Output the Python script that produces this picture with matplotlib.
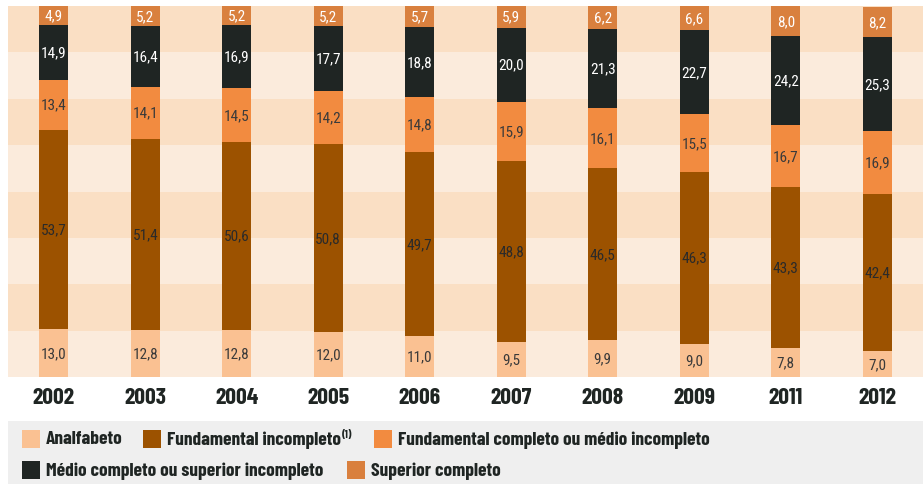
import matplotlib
matplotlib.use("Agg")
import matplotlib.pyplot as plt
from matplotlib.patches import Rectangle

# Data (percentages)
years = ["2002", "2003", "2004", "2005", "2006", "2007", "2008", "2009", "2011", "2012"]
analfabeto = [13.0, 12.8, 12.8, 12.0, 11.0, 9.5, 9.9, 9.0, 7.8, 7.0]
fund_incompleto = [53.7, 51.4, 50.6, 50.8, 49.7, 48.8, 46.5, 46.3, 43.3, 42.4]
fund_completo = [13.4, 14.1, 14.5, 14.2, 14.8, 15.9, 16.1, 15.5, 16.7, 16.9]
medio_completo = [14.9, 16.4, 16.9, 17.7, 18.8, 20.0, 21.3, 22.7, 24.2, 25.3]
superior = [4.9, 5.2, 5.2, 5.2, 5.7, 5.9, 6.2, 6.6, 8.0, 8.2]

series = [
    ("Analfabeto", analfabeto, "#FAC192", "#3a3a3a"),
    ("Fundamental incompleto", fund_incompleto, "#9C5200", "#2a2a2a"),
    ("Fundamental completo ou médio incompleto", fund_completo, "#F28B40", "#3a3a3a"),
    ("Médio completo ou superior incompleto", medio_completo, "#1F2523", "#ffffff"),
    ("Superior completo", superior, "#D9803E", "#ffffff"),
]

NARROW = ["Barlow Condensed", "Liberation Sans", "DejaVu Sans"]
VALFONT = ["Roboto Condensed", "Barlow Condensed", "Liberation Sans", "DejaVu Sans"]

W, H = 923, 485
fig = plt.figure(figsize=(W / 100, H / 100), dpi=100)
ax = fig.add_axes([8 / W, (H - 378) / H, 915 / W, 371 / H])

# background bands
for i in range(8):
    c = "#FBEBDC" if i % 2 == 0 else "#FADFC4"
    ax.axhspan(i * 12.5, (i + 1) * 12.5, color=c, lw=0, zorder=0)

x = range(len(years))
bottom = [0.0] * len(years)
for name, vals, color, tcolor in series:
    ax.bar(x, vals, bottom=bottom, width=0.32, color=color, lw=0, zorder=2)
    for i, v in enumerate(vals):
        ax.text(i, bottom[i] + v / 2, f"{v:.1f}".replace(".", ","),
                ha="center", va="center", color=tcolor, fontsize=11,
                family=VALFONT, zorder=3)
    bottom = [b + v for b, v in zip(bottom, vals)]

ax.set_xlim(-0.5, len(years) - 0.5)
ax.set_ylim(0, 100)
ax.set_xticks(list(x))
ax.set_xticklabels(years, fontsize=17, fontweight="bold", family=NARROW, color="#1F2523")
ax.tick_params(axis="x", length=0, pad=7)
ax.set_yticks([])
for s in ax.spines.values():
    s.set_visible(False)

# legend box
fig.patches.append(Rectangle((8 / W, 0), 915 / W, 63 / H, transform=fig.transFigure,
                             color="#EFEFEF", lw=0, zorder=0))

legend_items = [
    (22, 440, 0), (143, 440, 1), (374, 440, 2),
    (22, 471, 3), (347, 471, 4),
]
fig.canvas.draw()
renderer = fig.canvas.get_renderer()
for px, py, k in legend_items:
    name, _, color, _ = series[k]
    fig.patches.append(Rectangle((px / W, (H - py - 9) / H), 18 / W, 18 / H,
                                 transform=fig.transFigure, color=color, lw=0))
    t = fig.text((px + 24) / W, (H - py) / H, name, fontsize=14, fontweight="bold",
                 family=NARROW, color="#1F2523", va="center", ha="left")
    if k == 1:
        bb = t.get_window_extent(renderer)
        fig.text(bb.x1 / W + 1 / W, (H - py + 5) / H, "(1)", fontsize=8, fontweight="bold",
                 family=NARROW, color="#1F2523", va="center", ha="left")

fig.savefig("out.png", dpi=100)
